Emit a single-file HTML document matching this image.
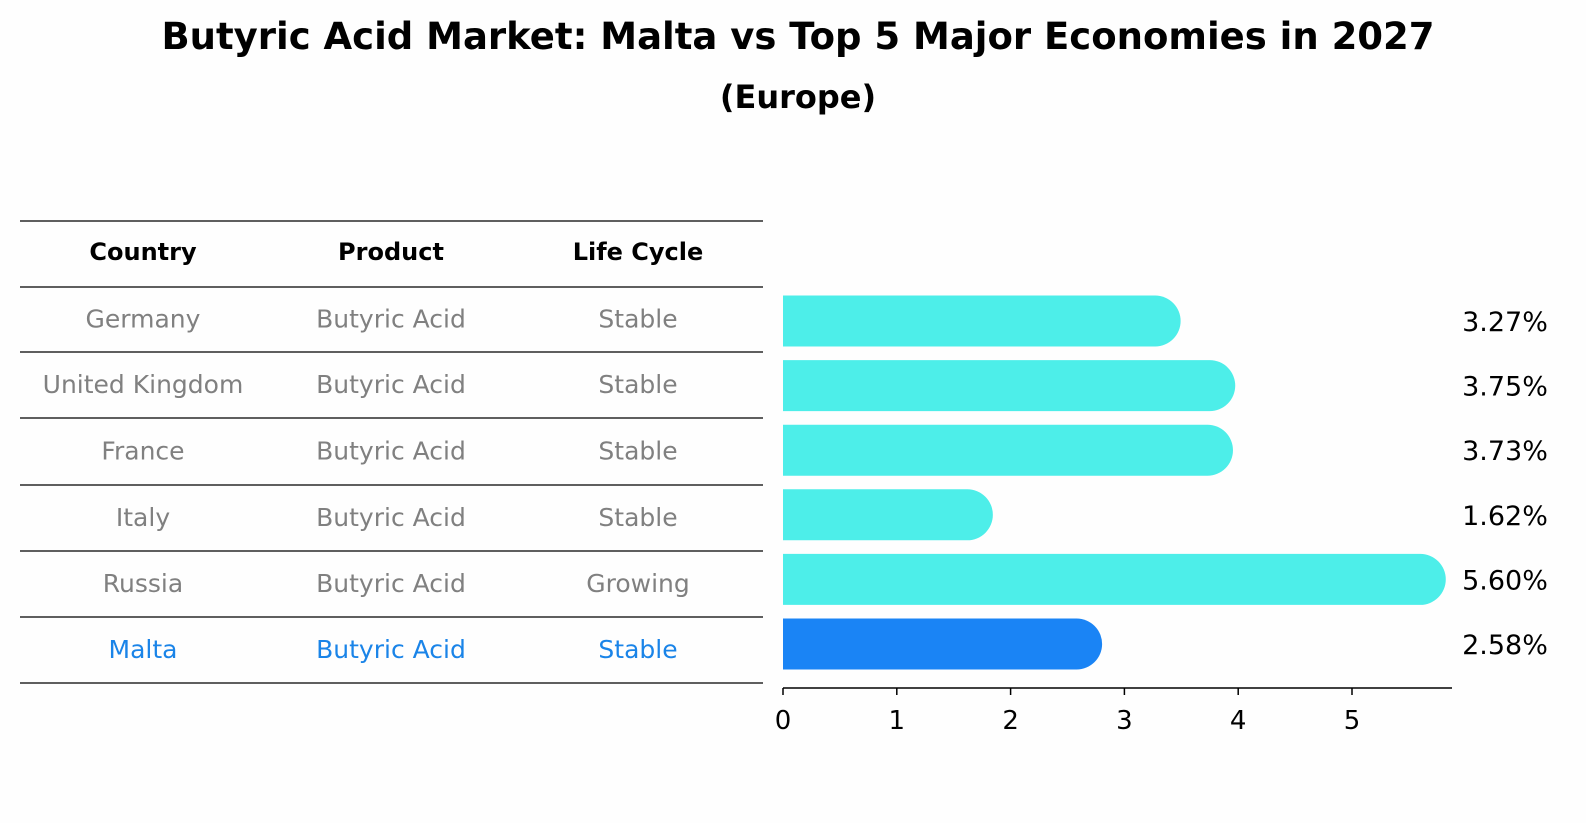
<!DOCTYPE html>
<html><head><meta charset="utf-8"><style>
body{margin:0;background:#fefefe;font-family:"DejaVu Sans","Liberation Sans",sans-serif;}
#wrap{position:relative;width:1586px;height:823px;overflow:hidden;background:#fefefe;}
</style></head><body>
<div id="wrap">
<svg id="svg" width="1586" height="823" xmlns="http://www.w3.org/2000/svg" font-family="DejaVu Sans, Liberation Sans, sans-serif">
<text x="798" y="49" text-anchor="middle" font-size="37" font-weight="bold">Butyric Acid Market: Malta vs Top 5 Major Economies in 2027</text>
<text x="798" y="108" text-anchor="middle" font-size="32" font-weight="bold">(Europe)</text>
<g id="table"></g>
<g id="bars"></g>
</svg>
</div>
<script>
const countries=["Germany","United Kingdom","France","Italy","Russia","Malta"];
const products=["Butyric Acid","Butyric Acid","Butyric Acid","Butyric Acid","Butyric Acid","Butyric Acid"];
const lifecycle=["Stable","Stable","Stable","Stable","Growing","Stable"];
const values=[3.27,3.75,3.73,1.62,5.60,2.58];
const ticks=[0,1,2,3,4,5];
const NS="http://www.w3.org/2000/svg";
function mk(t,a,p){const e=document.createElementNS(NS,t);for(const k in a)e.setAttribute(k,a[k]);p.appendChild(e);return e;}
const tbl=document.getElementById('table'),bars=document.getElementById('bars');
const lines=[221,287,352,418,485,551,617,683];
lines.forEach(y=>{const l=mk('line',{x1:20,x2:763,y1:y,y2:y,stroke:'#000','stroke-width':1.2},tbl);

});
const colX=[143,391,638];
["Country","Product","Life Cycle"].forEach((h,i)=>{const t=mk('text',{x:colX[i],y:260,'text-anchor':'middle','font-size':24,'font-weight':'bold'},tbl);t.textContent=h;

});
const x0=783,pu=113.8;
function X(v){return x0+v*pu;}
const rowY=i=>321+i*64.6;
countries.forEach((c,i)=>{
 const col=c==="Malta"?"#1a84e8":"#808080";
 const cy=(lines[i+1]+lines[i+2])/2+8;
 [c,products[i],lifecycle[i]].forEach((s,j)=>{const t=mk('text',{x:colX[j],y:cy,'text-anchor':'middle','font-size':25,fill:col},tbl);t.textContent=s;
 
 });
 const h=51,r=25.5,y=rowY(i)-h/2,xe=X(values[i]);
 const fill=c==="Malta"?"#1a84f5":"#4deee9";
 const p=mk('path',{d:`M${x0},${y} H${xe} A${r},${r} 0 0 1 ${xe},${y+h} H${x0} Z`,fill:fill},bars);
 
 
 const t=mk('text',{x:1505,y:rowY(i)+10,'text-anchor':'middle','font-size':27},bars);t.textContent=values[i].toFixed(2)+'%';
 
 
});
const ax=mk('line',{x1:x0,x2:1452,y1:688,y2:688,stroke:'#000','stroke-width':1.5},bars);


ticks.forEach(v=>{const l=mk('line',{x1:X(v),x2:X(v),y1:688,y2:695,stroke:'#000','stroke-width':1.5},bars);


const t=mk('text',{x:X(v),y:729,'text-anchor':'middle','font-size':26},bars);t.textContent=v;

});
</script>
</body></html>
